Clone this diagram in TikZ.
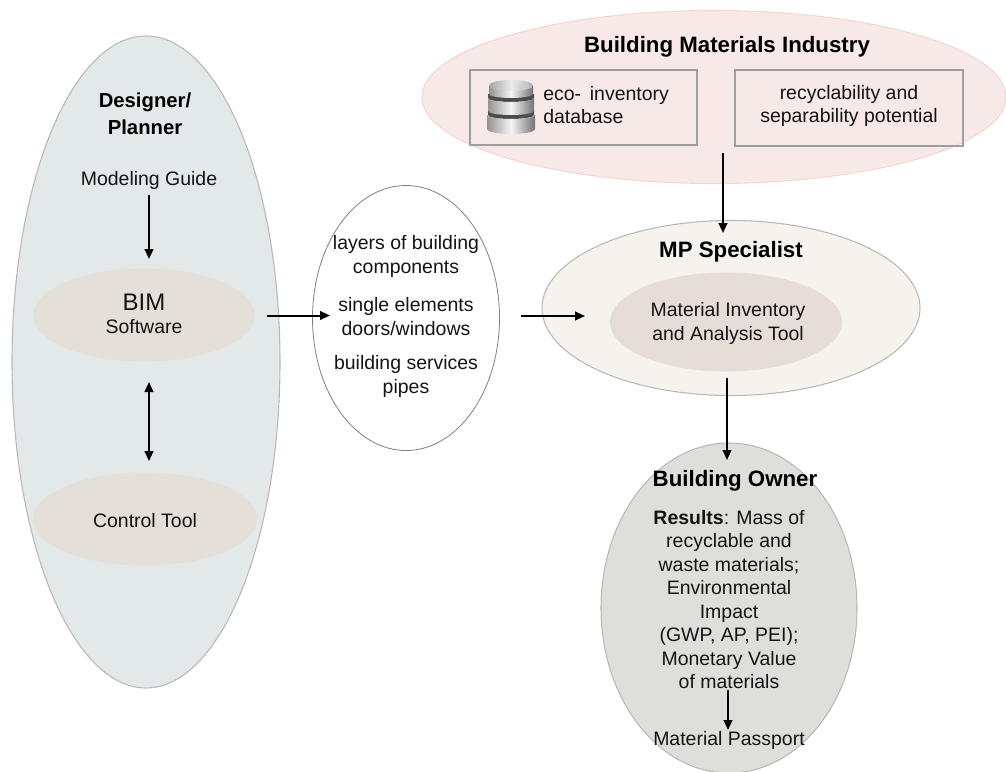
\documentclass[tikz,border=0pt]{standalone}
\usepackage{fontspec}
\setmainfont{Liberation Sans}
\usetikzlibrary{shapes.geometric,arrows.meta}
\newcommand{\bodyfs}{\fontsize{14.6}{17.6}\selectfont}
\newcommand{\headfs}{\fontsize{15.2}{20.25}\selectfont\bfseries}
\newcommand{\bigheadfs}{\fontsize{16.7}{20}\selectfont\bfseries}
\tikzset{
  x=0.75pt,y=-0.75pt,
  oval/.style={ellipse,inner sep=0pt,outer sep=0pt,draw=#1,line width=0.8pt},
  txt/.style={align=center,font=\bodyfs,text=black!92,inner sep=0pt,anchor=base},
  headtxt/.style={align=center,font=\headfs,text=black,inner sep=0pt,anchor=base},
  bighead/.style={align=center,font=\bigheadfs,text=black,inner sep=0pt,anchor=base},
  boxed/.style={draw=black!38,line width=0.8pt,inner sep=0pt,outer sep=0pt},
  flow/.style={line width=1.5pt,-{Triangle[length=7.5pt,width=6.5pt]},black},
  flowboth/.style={line width=1.5pt,{Triangle[length=7.5pt,width=6.5pt]}-{Triangle[length=7.5pt,width=6.5pt]},black},
  disc/.style={left color=black!42,right color=black!55,middle color=black!4,draw=none},
  topface/.style={left color=black!35,right color=black!30,middle color=black!8,draw=none}
}
\definecolor{planfill}{HTML}{E2E9E8}
\definecolor{tanfill}{HTML}{E4DFD8}
\definecolor{pinkfill}{HTML}{F7E9E8}
\definecolor{pinkline}{HTML}{F6D6CE}
\definecolor{mpfill}{HTML}{F6F3EE}
\definecolor{mpinner}{HTML}{E6DDD9}
\definecolor{ownerfill}{HTML}{DEDFDB}
\definecolor{ovalline}{HTML}{B8B8B4}
\begin{document}
\begin{tikzpicture}
\useasboundingbox (0,0) rectangle (1006,771);
\begin{scope}
\clip (0,0) rectangle (1006,771);
% containers
\node[oval=ovalline,fill=planfill,minimum width=268*0.75pt,minimum height=652*0.75pt] (planner) at (146,362) {};
\node[oval=tanfill,fill=tanfill,minimum width=220*0.75pt,minimum height=92*0.75pt] (bim) at (144,315) {};
\node[oval=tanfill,fill=tanfill,minimum width=223*0.75pt,minimum height=92*0.75pt] (control) at (145,519) {};
\node[oval=black!50,fill=white,minimum width=187*0.75pt,minimum height=265*0.75pt,line width=0.6pt] (parts) at (406,318) {};
\node[oval=pinkline,fill=pinkfill,minimum width=584*0.75pt,minimum height=173*0.75pt] (industry) at (714,97) {};
\node[oval=ovalline,fill=mpfill,minimum width=378*0.75pt,minimum height=175*0.75pt] (mp) at (731,308) {};
\node[oval=mpinner,fill=mpinner,minimum width=231*0.75pt,minimum height=98*0.75pt] (tool) at (726,322) {};
\node[oval=ovalline,fill=ownerfill,minimum width=256*0.75pt,minimum height=330*0.75pt] (owner) at (729,608) {};
\end{scope}
% boxes
\node[boxed,minimum width=227*0.75pt,minimum height=75*0.75pt] (ecobox) at (583.5,107.5) {};
\node[boxed,minimum width=228*0.75pt,minimum height=76*0.75pt] (recbox) at (849,108) {};
% database icon: dark gaps, then three cylinders
\fill[black!70] (488,94) -- (488,98) arc[start angle=180,end angle=0,x radius=23,y radius=4] -- (534,94) -- cycle;
\fill[black!70] (488,111) -- (488,115) arc[start angle=180,end angle=0,x radius=23,y radius=4] -- (534,111) -- cycle;
\path[disc] (487,115) arc[start angle=180,end angle=0,x radius=24,y radius=4] -- (535,129) arc[start angle=0,end angle=180,x radius=24,y radius=5] -- cycle;
\path[disc] (488,98) arc[start angle=180,end angle=0,x radius=23,y radius=4] -- (534,111) arc[start angle=0,end angle=180,x radius=23,y radius=4] -- cycle;
\path[disc] (489,86) -- (489,94) arc[start angle=180,end angle=0,x radius=22,y radius=4] -- (533,86) -- cycle;
\path[topface] (511,85.5) ellipse[x radius=22,y radius=5.5];
% text (positions are baselines of the last line)
\node[headtxt] (planhead) at (145,134) {Designer/\\Planner};
\node[txt] (guide) at (149,185) {Modeling Guide};
\node[txt,font=\fontsize{18}{20}\selectfont] (bimlabel) at (144,310) {BIM};
\node[txt] (softlabel) at (144,333) {Software};
\node[txt] (controllabel) at (145,527) {Control Tool};
\node[txt] (l1) at (406,273) {layers of building\\components};
\node[txt] (l2) at (406,335) {single elements\\doors/windows};
\node[txt] (l3) at (406,393) {building services\\pipes};
\node[bighead] (indhead) at (727,52.5) {Building Materials Industry};
\node[txt,align=left,anchor=base west,font=\fontsize{14.6}{17}\selectfont] (ecolabel) at (543,123) {eco-\hspace{0.45em}inventory\\database};
\node[txt] (reclabel) at (849,122.5) {recyclability and\\separability potential};
\node[bighead] (mphead) at (731,257) {MP Specialist};
\node[txt] (toollabel) at (728,340) {Material Inventory\\and Analysis Tool};
\node[bighead] (ownhead) at (735,486.5) {Building Owner};
\node[txt] (results) at (729,688.5) {\textbf{Results}: Mass of\\recyclable and\\waste materials;\\Environmental\\Impact\\(GWP, AP, PEI);\\Monetary Value\\of materials};
\node[txt] (passport) at (729,745) {Material Passport};
% connector ends
\coordinate (a1s) at (149,195); \coordinate (a1e) at (149,259);
\coordinate (a2s) at (149,382); \coordinate (a2e) at (149,461);
\coordinate (a3s) at (267,315.5); \coordinate (a3e) at (330,315.5);
\coordinate (a4s) at (521,316); \coordinate (a4e) at (585,316);
\coordinate (a5s) at (723,153); \coordinate (a5e) at (723,233);
\coordinate (a6s) at (727,378); \coordinate (a6e) at (727,460);
\coordinate (a7s) at (728,690); \coordinate (a7e) at (728,730);
\draw[flow] (a1s) -- (a1e);
\draw[flowboth] (a2s) -- (a2e);
\draw[flow] (a3s) -- (a3e);
\draw[flow] (a4s) -- (a4e);
\draw[flow] (a5s) -- (a5e);
\draw[flow] (a6s) -- (a6e);
\draw[flow] (a7s) -- (a7e);
\end{tikzpicture}
\end{document}
